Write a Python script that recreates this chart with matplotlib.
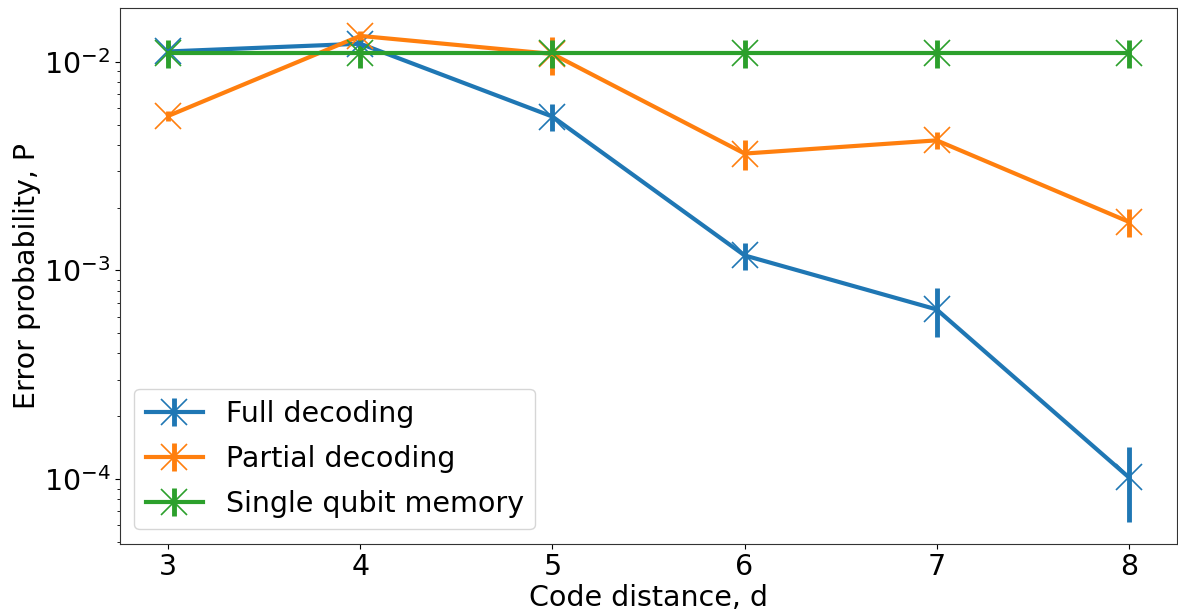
import matplotlib
matplotlib.use("Agg")
import matplotlib.pyplot as plt

distance = [3, 4, 5, 6, 7, 8]

full_p = [0.0112, 0.0122, 0.00546, 0.00118, 0.00065, 0.000102]
full_err = [0.0010, 0.0009, 0.0008, 0.00018, 0.00017, 0.000040]

partial_p = [0.0055, 0.0133, 0.0109, 0.00363, 0.0042, 0.00171]
partial_err = [0.0003, 0.0008, 0.0023, 0.0006, 0.0004, 0.00027]

single_p = [0.011, 0.011, 0.011, 0.011, 0.011, 0.011]
single_err = [0.0017, 0.0017, 0.0017, 0.0017, 0.0017, 0.0017]

plt.rcParams["font.size"] = 20.5

fig = plt.figure(figsize=(11.78, 6.13), dpi=100)
ax = fig.add_axes([0.102, 0.113, 0.897, 0.874])

style = dict(marker="x", markersize=19, markeredgewidth=1.2, linewidth=3,
             elinewidth=3.5, capsize=0)
ax.errorbar(distance, full_p, yerr=full_err, label="Full decoding", color="#1f77b4", **style)
ax.errorbar(distance, partial_p, yerr=partial_err, label="Partial decoding", color="#ff7f0e", **style)
ax.errorbar(distance, single_p, yerr=single_err, label="Single qubit memory", color="#2ca02c", **style)

ax.set_yscale("log")
ax.set_ylim(4.9e-5, 0.0181)
ax.set_xlim(2.75, 8.25)
ax.set_xlabel("Code distance, d", labelpad=2)
ax.set_ylabel("Error probability, P", labelpad=2)
for s in ax.spines.values():
    s.set_color("#333333")

ax.legend(loc="lower left", fontsize=20.5, labelspacing=0.6)

fig.savefig("out.png", dpi=100)
